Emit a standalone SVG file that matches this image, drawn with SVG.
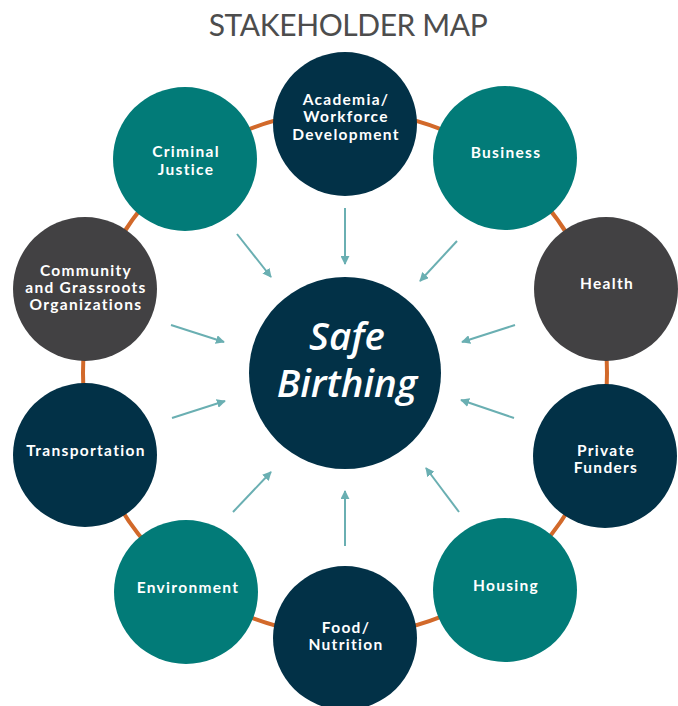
<svg xmlns="http://www.w3.org/2000/svg" width="678" height="706" viewBox="0 0 678 706">
<defs>
<marker id="ah" viewBox="0 0 10 10" refX="9" refY="5" markerWidth="4.5" markerHeight="4.5" orient="auto" markerUnits="strokeWidth">
<path d="M0,0 L10,5 L0,10 z" fill="#6AAFB2"/>
</marker>
<style>
.title{font-family:Lato,"Open Sans",sans-serif;font-size:30px;letter-spacing:-0.4px;fill:#4d4d4d;text-anchor:middle}
.lbl{font-family:Lato,"Open Sans",sans-serif;font-weight:700;font-size:15.5px;letter-spacing:1.3px;fill:#ffffff;text-anchor:middle}
.teal{fill:#027B78}
.navy{fill:#023147}
.gray{fill:#424143}
.arr{stroke:#6AAFB2;stroke-width:2;fill:none;marker-end:url(#ah)}
.center{font-family:"Open Sans",sans-serif;font-weight:600;font-style:italic;font-size:38.5px;fill:#ffffff;text-anchor:middle}
</style>
</defs>
<rect width="678" height="706" fill="#ffffff"/>
<text class="title" x="348" y="36">STAKEHOLDER MAP</text>
<g id="connectors">
<circle cx="345" cy="373" r="262" fill="none" stroke="#D2692A" stroke-width="4"/>
<line class="arr" x1="345" y1="208" x2="345" y2="264"/>
<line class="arr" x1="237" y1="234" x2="271" y2="277"/>
<line class="arr" x1="457" y1="241" x2="420" y2="281"/>
<line class="arr" x1="171" y1="325" x2="224" y2="342"/>
<line class="arr" x1="172" y1="418" x2="225" y2="401"/>
<line class="arr" x1="515" y1="325" x2="462" y2="342"/>
<line class="arr" x1="514" y1="418" x2="461" y2="400"/>
<line class="arr" x1="233" y1="512" x2="271" y2="472"/>
<line class="arr" x1="345" y1="546" x2="345" y2="491"/>
<line class="arr" x1="459" y1="512" x2="426" y2="468"/>
</g>
<g id="safe-birthing">
<circle class="navy" cx="345" cy="373" r="96"/>
<text class="center" x="347" y="350">Safe</text>
<text class="center" x="347" y="397">Birthing</text>
</g>
<g id="academia">
<circle class="navy" cx="345" cy="124" r="72"/>
<text class="lbl" x="346" y="105">Academia/</text>
<text class="lbl" x="346" y="122">Workforce</text>
<text class="lbl" x="346" y="140">Development</text>
</g>
<g id="business">
<circle class="teal" cx="505" cy="158" r="72"/>
<text class="lbl" x="506" y="158">Business</text>
</g>
<g id="health">
<circle class="gray" cx="606" cy="289" r="72"/>
<text class="lbl" x="607" y="289">Health</text>
</g>
<g id="private-funders">
<circle class="navy" cx="605" cy="456" r="72"/>
<text class="lbl" x="606" y="456">Private</text>
<text class="lbl" x="606" y="473">Funders</text>
</g>
<g id="housing">
<circle class="teal" cx="505" cy="590" r="72"/>
<text class="lbl" x="506" y="591">Housing</text>
</g>
<g id="food-nutrition">
<circle class="navy" cx="345" cy="638" r="72"/>
<text class="lbl" x="346" y="633">Food/</text>
<text class="lbl" x="346" y="650">Nutrition</text>
</g>
<g id="environment">
<circle class="teal" cx="186" cy="592" r="72"/>
<text class="lbl" x="188" y="593">Environment</text>
</g>
<g id="transportation">
<circle class="navy" cx="85" cy="455" r="72"/>
<text class="lbl" x="86" y="456">Transportation</text>
</g>
<g id="community">
<circle class="gray" cx="85" cy="289" r="72"/>
<text class="lbl" x="86" y="276">Community</text>
<text class="lbl" x="86" y="293">and Grassroots</text>
<text class="lbl" x="86" y="310">Organizations</text>
</g>
<g id="criminal-justice">
<circle class="teal" cx="185" cy="159" r="72"/>
<text class="lbl" x="186" y="157">Criminal</text>
<text class="lbl" x="186" y="175">Justice</text>
</g>
</svg>
